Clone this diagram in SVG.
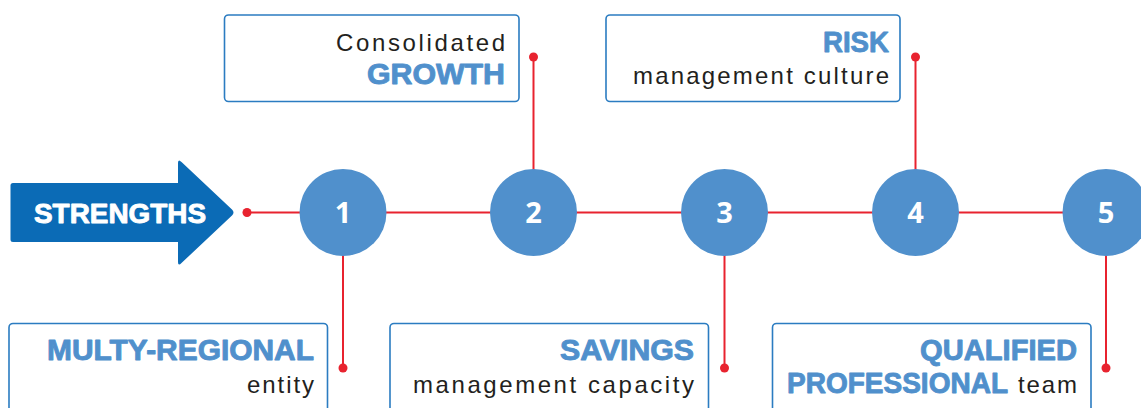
<svg xmlns="http://www.w3.org/2000/svg" width="1141" height="408" viewBox="0 0 1141 408">
<style>
.box{fill:#fff;stroke:#2b7cc1;stroke-width:1.6}
.conn{stroke:#e8232f;stroke-width:2;fill:none}
.dot{fill:#e8232f}
.circ{fill:#5090cc}
.num{font-family:"Open Sans","Liberation Sans",sans-serif;font-weight:700;font-size:29px;fill:#fff;text-anchor:middle}
.bold{font-family:"Liberation Sans",Arial,sans-serif;font-weight:700;font-size:29px;fill:#5090cc;stroke:#5090cc;stroke-width:0.9;stroke-linejoin:round;text-anchor:end}
.reg{font-family:"Liberation Sans",Arial,sans-serif;font-size:24px;fill:#231f20;text-anchor:end}
</style>
<rect width="1141" height="408" fill="#fff"/>
<g id="connectors">
<line class="conn" x1="247" y1="212.5" x2="1141" y2="212.5"/>
<line class="conn" x1="533.5" y1="57" x2="533.5" y2="180"/>
<line class="conn" x1="915.5" y1="57" x2="915.5" y2="180"/>
<line class="conn" x1="343" y1="240" x2="343" y2="368"/>
<line class="conn" x1="724.5" y1="240" x2="724.5" y2="368"/>
<line class="conn" x1="1106" y1="240" x2="1106" y2="368"/>
<circle class="dot" cx="247" cy="212.5" r="4.5"/>
<circle class="dot" cx="533.5" cy="57" r="4.5"/>
<circle class="dot" cx="915.5" cy="57" r="4.5"/>
<circle class="dot" cx="343" cy="368" r="4.5"/>
<circle class="dot" cx="724.5" cy="368" r="4.5"/>
<circle class="dot" cx="1106" cy="368" r="4.5"/>
</g>
<g id="strengths">
<path d="M13,183 H178 V163 Q178,158.5 181.5,162 L232,209.5 Q235,212.5 232,215.5 L181.5,263 Q178,266.5 178,262 V242 H13 Q10.5,242 10.5,239.5 V185.5 Q10.5,183 13,183 Z" fill="#0b6bb6"/>
<text x="120" y="223" font-family="Liberation Sans,Arial,sans-serif" font-weight="700" font-size="27" fill="#fff" stroke="#fff" stroke-width="0.9" stroke-linejoin="round" text-anchor="middle" textLength="172" lengthAdjust="spacingAndGlyphs">STRENGTHS</text>
</g>
<g id="n1"><circle class="circ" cx="343" cy="212.5" r="43.5"/><text class="num" x="343" y="223">1</text></g>
<g id="n2"><circle class="circ" cx="533.5" cy="212.5" r="43.5"/><text class="num" x="533.5" y="223">2</text></g>
<g id="n3"><circle class="circ" cx="724.5" cy="212.5" r="43.5"/><text class="num" x="724.5" y="223">3</text></g>
<g id="n4"><circle class="circ" cx="915.5" cy="212.5" r="43.5"/><text class="num" x="915.5" y="223">4</text></g>
<g id="n5"><circle class="circ" cx="1106" cy="212.5" r="43.5"/><text class="num" x="1106" y="223">5</text></g>
<g id="growth">
<rect class="box" x="224.5" y="15" width="294.5" height="86.5" rx="4"/>
<text class="reg" x="505" y="51" font-size="26" textLength="169" lengthAdjust="spacing">Consolidated</text>
<text class="bold" x="505" y="84" textLength="138" lengthAdjust="spacingAndGlyphs">GROWTH</text>
</g>
<g id="risk">
<rect class="box" x="606" y="15" width="294" height="86.5" rx="4"/>
<text class="bold" x="889" y="52" textLength="66" lengthAdjust="spacingAndGlyphs">RISK</text>
<text class="reg" x="889" y="83.5" font-size="23" textLength="256" lengthAdjust="spacing">management culture</text>
</g>
<g id="multyregional">
<rect class="box" x="9" y="323.5" width="318.5" height="100" rx="4"/>
<text class="bold" x="314" y="360" textLength="267" lengthAdjust="spacingAndGlyphs">MULTY-REGIONAL</text>
<text class="reg" x="314" y="393" font-size="25" textLength="67" lengthAdjust="spacing">entity</text>
</g>
<g id="savings">
<rect class="box" x="390" y="323.5" width="318.5" height="100" rx="4"/>
<text class="bold" x="694" y="360" textLength="134" lengthAdjust="spacingAndGlyphs">SAVINGS</text>
<text class="reg" x="694" y="393" font-size="25" textLength="281" lengthAdjust="spacing">management capacity</text>
</g>
<g id="qualified">
<rect class="box" x="772.5" y="323.5" width="318.5" height="100" rx="4"/>
<text class="bold" x="1077" y="360" textLength="157" lengthAdjust="spacingAndGlyphs">QUALIFIED</text>
<text class="bold" x="1008" y="393" textLength="221" lengthAdjust="spacingAndGlyphs">PROFESSIONAL</text>
<text class="reg" x="1077" y="393" font-size="25" textLength="59" lengthAdjust="spacing">team</text>
</g>
</svg>
